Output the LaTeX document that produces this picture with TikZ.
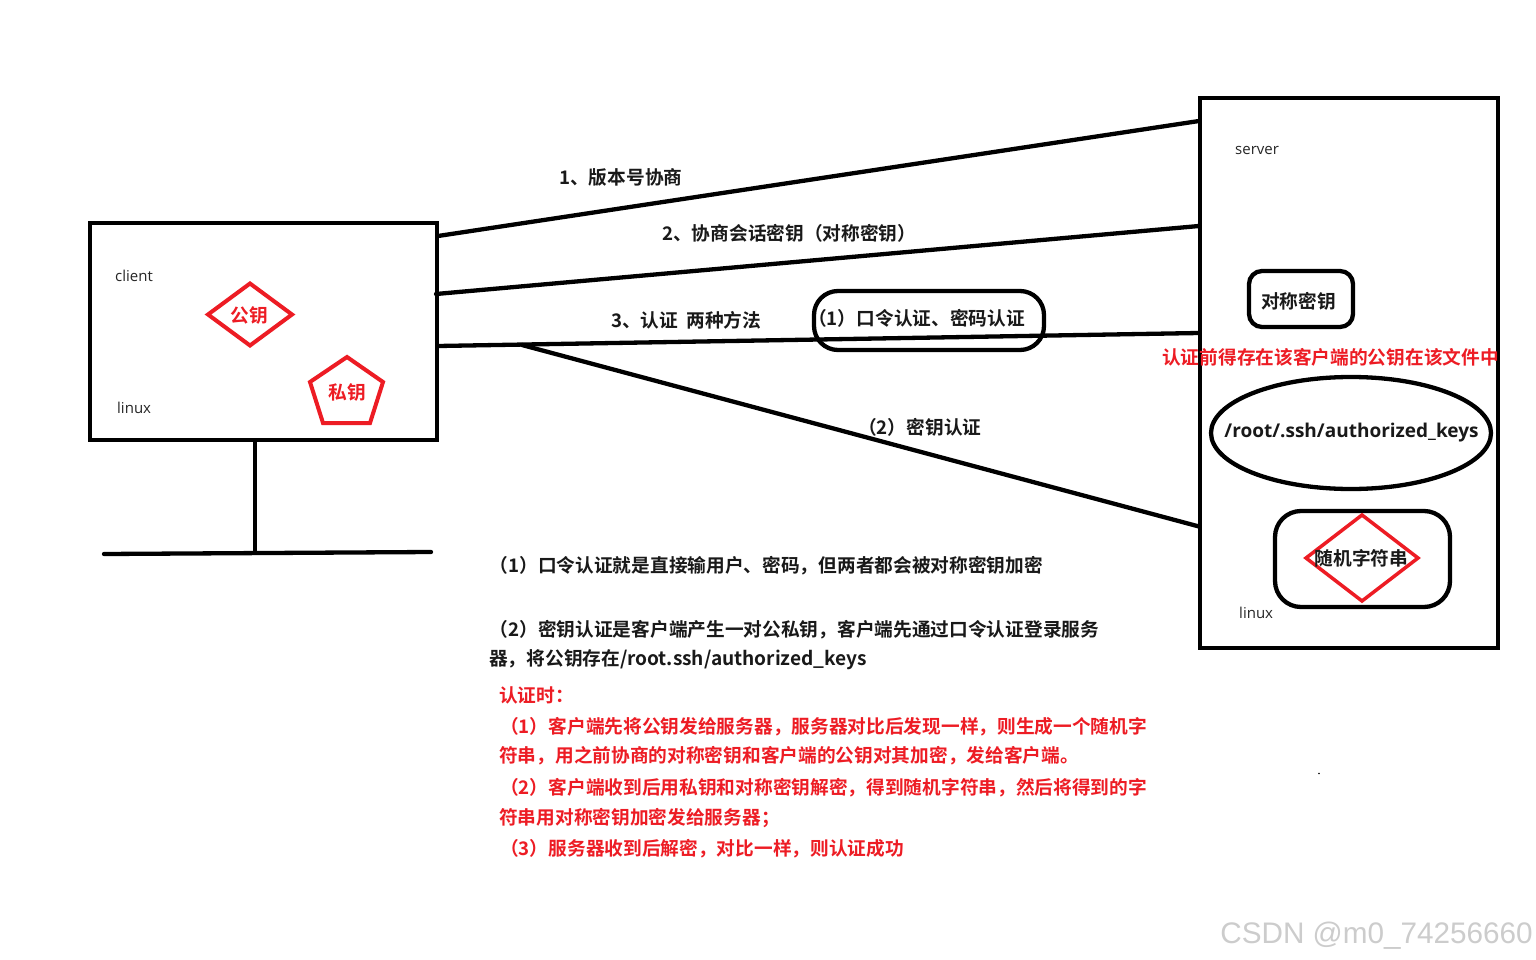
\documentclass[tikz,border=0pt]{standalone}
\usepackage{fontspec}
\usetikzlibrary{shapes.geometric}
\setmainfont{Open Sans}
\newfontfamily\cjk{Noto Sans CJK SC}[BoldFont={Noto Sans CJK SC Bold}]
\newfontfamily\wmfont{Liberation Sans}
\definecolor{kred}{RGB}{237,28,36}
\tikzset{
  x=1pt,y=-1pt,
  ink/.style={line width=4.3pt,draw=black,line cap=round},
  latn/.style={font=\fontsize{15}{15}\selectfont,text=black!85,inner sep=0pt,anchor=west},
  cn/.style={font=\cjk\bfseries\fontsize{18.7}{18.7}\selectfont,text=black!90,inner sep=0pt,anchor=west},
  cnred/.style={cn,text=kred},
  redshape/.style={line width=4pt,draw=kred,line join=miter},
}
\begin{document}
\begin{tikzpicture}
\useasboundingbox (0,0) rectangle (1536,960);
\fill[white] (0,0) rectangle (1536,960);
% boxes
\node[ink,minimum width=347pt,minimum height=217pt,inner sep=0pt,line cap=butt] (client) at (263.5,331.5) {};
\node[ink,minimum width=298pt,minimum height=550pt,inner sep=0pt,line cap=butt] (server) at (1349,373) {};
% anchors of connectors
\coordinate (a1) at (438,236); \coordinate (b1) at (1199,121);
\coordinate (a2) at (436,294); \coordinate (b2) at (1199,226);
\coordinate (a3) at (438,346); \coordinate (b3) at (1199,333);
\coordinate (a4) at (522,345); \coordinate (b4) at (1199,526.5);
\coordinate (s1) at (255,441); \coordinate (s2) at (255,551);
\coordinate (g1) at (104,554); \coordinate (g2) at (431,552);
\draw[ink] (a1) -- (b1);
\draw[ink] (a2) -- (b2);
\draw[ink] (a3) -- (b3);
\draw[ink] (a4) -- (b4);
\draw[ink] (s1) -- (s2);
\draw[ink] (g1) -- (g2);
% pill
\node[ink,rounded corners=24pt,minimum width=230pt,minimum height=59pt,inner sep=0pt] (pill) at (929,320.5) {};
\node[cn] (t5) at (808,318) {（1）口令认证、密码认证};
% server parts
\node[ink,rounded corners=13pt,minimum width=104pt,minimum height=56pt,inner sep=0pt] (sym) at (1301,299) {};
\node[cn,anchor=center] (symt) at (1298.5,301) {对称密钥};
\node[ink,ellipse,minimum width=280pt,minimum height=112pt,inner sep=0pt] (keys) at (1351,433) {};
\node[ink,rounded corners=26pt,minimum width=175pt,minimum height=96pt,inner sep=0pt] (rnd) at (1362.5,559) {};
\draw[line width=3.5pt,draw=kred] (1362,515) -- (1418,558) -- (1362,601) -- (1306,558) -- cycle;
\node[cn,anchor=center] (rndt) at (1361.5,558) {随机字符串};
\node[font=\fontsize{19}{19}\selectfont\bfseries,inner sep=0pt,anchor=center,text=black!90] (keyst) at (1351.5,433) {/root/.ssh/authorized\_keys};
% client parts
\draw[redshape] (250,283.5) -- (292,314.5) -- (250,345.5) -- (208,314.5) -- cycle;
\node[cnred,anchor=center] (pub) at (249,315.5) {公钥};
\draw[redshape] (347,357) -- (383,382) -- (370,423) -- (323,423) -- (310,382) -- cycle;
\node[cnred,anchor=center] (pri) at (347,392) {私钥};
\node[latn] (tc) at (115,276) {client};
\node[latn] (tl) at (117,408) {linux};
\node[latn] (ts) at (1235,150) {server};
\node[latn] (tl2) at (1239,613) {linux};
% labels
\node[cn] (t1) at (559,177) {1、版本号协商};
\node[cn] (t2) at (662,233.5) {2、协商会话密钥（对称密钥）};
\node[cn] (t3) at (611,320) {3、认证\hspace{4pt} 两种方法};
\node[cn] (t4) at (858,427) {（2）密钥认证};
\node[cnred] (tr) at (1162,357) {认证前得存在该客户端的公钥在该文件中};
% paragraphs
\node[cn] (p1) at (489.5,566) {（1）口令认证就是直接输用户、密码，但两者都会被对称密钥加密};
\node[cn] (p2) at (489.5,629.7) {（2）密钥认证是客户端产生一对公私钥，客户端先通过口令认证登录服务};
\node[cn] (p3) at (489,659.5) {器，将公钥存在{\fontsize{19.1}{19.1}\selectfont/root.ssh/authorized\_keys}};
\node[cnred] (r0) at (499,695) {认证时：};
\node[cnred] (r1) at (500,726.7) {（1）客户端先将公钥发给服务器，服务器对比后发现一样，则生成一个随机字};
\node[cnred] (r2) at (499,756) {符串，用之前协商的对称密钥和客户端的公钥对其加密，发给客户端。};
\node[cnred] (r3) at (500,787.7) {（2）客户端收到后用私钥和对称密钥解密，得到随机字符串，然后将得到的字};
\node[cnred] (r4) at (499,818) {符串用对称密钥加密发给服务器；};
\node[cnred] (r5) at (500,849) {（3）服务器收到后解密，对比一样，则认证成功};
\fill[black] (1319,773.5) circle (0.8pt);
\node[font=\wmfont\fontsize{29.7}{29.7}\selectfont,inner sep=0pt,anchor=east,text=black!20] (wm) at (1533,936) {CSDN @m0\_74256660};
\end{tikzpicture}
\end{document}
